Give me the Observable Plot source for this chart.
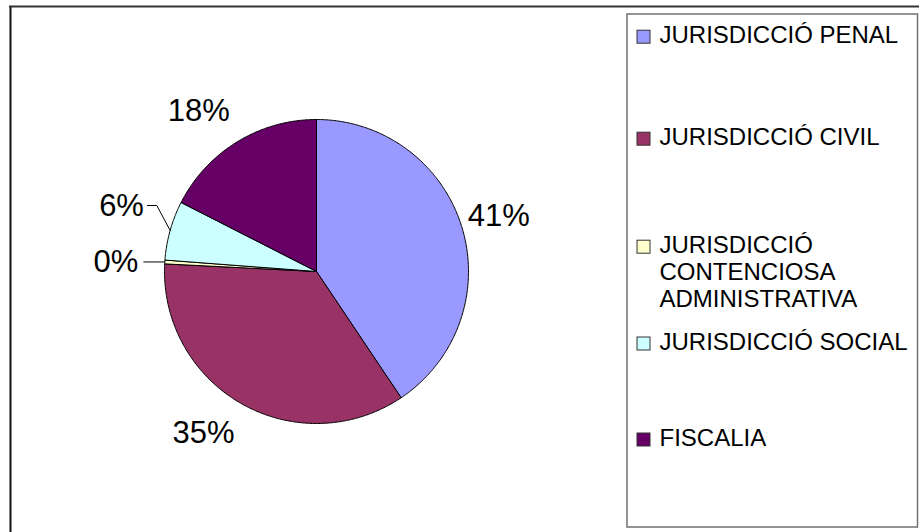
<!DOCTYPE html>
<html>
<head>
<meta charset="utf-8">
<script src="https://cdn.jsdelivr.net/npm/d3@7"></script>
<script src="https://cdn.jsdelivr.net/npm/@observablehq/plot@0.6"></script>
<style>
  html, body { margin: 0; padding: 0; background: #fff; }
  #wrap { width: 919px; height: 532px; overflow: hidden; position: relative; }
  #wrap svg { overflow: hidden; }
  g[aria-label="legend-text"] text { letter-spacing: 0.7px; }
  g[aria-label="pie-label"] text { letter-spacing: 1.2px; }
</style>
</head>
<body>
<div id="wrap"></div>
<script>
// ---- data ----
const categories = [
  "JURISDICCIÓ PENAL",
  "JURISDICCIÓ CIVIL",
  "JURISDICCIÓ CONTENCIOSA ADMINISTRATIVA",
  "JURISDICCIÓ SOCIAL",
  "FISCALIA"
];
const legendLabels = [
  "JURISDICCIÓ PENAL",
  "JURISDICCIÓ CIVIL",
  "JURISDICCIÓ\nCONTENCIOSA\nADMINISTRATIVA",
  "JURISDICCIÓ SOCIAL",
  "FISCALIA"
];
const shares = [40.6, 35.2, 0.4, 6.3, 17.5];
const colors = ["#9999FF", "#993366", "#FFFFCC", "#CCFFFF", "#660066"];

// ---- layout ----
const W = 919, H = 532;
const cx = 316, cy = 271, R = 152;
const font = "'Liberation Sans', Arial, sans-serif";
const leaderLayout = {
  2: { ex: 0, ey: 0, len: 21, gap: 5.5 },
  3: { ex: -13.3, ey: -25, len: 9.4, gap: 3.5 }
};
const legendRowY = [34.7, 136.7, 244.7, 341.5, 437.5];
const legendLine = 27;
const legendBox = { x1: 627, x2: 917.5, y1: 14, y2: 527 };

const arcs = d3.pie().sort(null).value(d => d)(shares);
const pt = (a, r) => ({ px: cx + r * Math.sin(a), py: cy - r * Math.cos(a) });

// slice outlines
const slicePts = arcs.flatMap((a, i) => {
  const pts = [{ name: categories[i], fill: colors[i], px: cx, py: cy }];
  const n = Math.max(2, Math.ceil((a.endAngle - a.startAngle) / (Math.PI / 360)));
  for (let k = 0; k <= n; k++) {
    const ang = a.startAngle + (a.endAngle - a.startAngle) * k / n;
    pts.push({ name: categories[i], fill: colors[i], ...pt(ang, R) });
  }
  pts.push({ name: categories[i], fill: colors[i], px: cx, py: cy });
  return pts;
});

// labels
const labels = arcs.map((a, i) => {
  const mid = (a.startAngle + a.endAngle) / 2;
  const text = Math.round(shares[i]) + "%";
  if (leaderLayout[i]) {
    const L = leaderLayout[i];
    const P = pt(mid, R);
    const E = { px: P.px + L.ex, py: P.py + L.ey };
    const End = { px: E.px - L.len, py: E.py };
    return { i, text, leader: [P, E, End].map(p => ({ ...p, i })), px: End.px - L.gap, py: End.py + 0.5, side: "end" };
  }
  const A = pt(mid, R * 1.04);
  const right = Math.sin(mid) > 0;
  return { i, text, px: A.px + (right ? 0 : -4), py: A.py - Math.cos(mid) * 29 - 1, side: right ? "start" : "end" };
});
const leaderPts = labels.filter(d => d.leader).flatMap(d => d.leader);

// legend
const legendText = legendLabels.flatMap((s, i) =>
  s.split("\n").map((line, k) => ({ line, px: 659, py: legendRowY[i] + k * legendLine }))
);
const legendSw = legendLabels.map((s, i) => ({ fill: colors[i], y1: legendRowY[i] - 4.5, y2: legendRowY[i] + 8.5 }));

const chart = Plot.plot({
  width: W, height: H, margin: 0,
  x: { domain: [0, W], range: [0, W], axis: null },
  y: { domain: [0, H], range: [0, H], axis: null },
  color: { type: "identity" },
  style: { fontFamily: font, background: "#fff" },
  marks: [
    // outer frame
    Plot.ruleX([10], { y1: 6, y2: H + 10, stroke: "#111", strokeWidth: 2 }),
    Plot.ruleY([6], { x1: 9, x2: W + 10, stroke: "#333", strokeWidth: 2 }),
    // pie
    Plot.line(slicePts, { x: "px", y: "py", z: "name", fill: "fill", stroke: "#000", strokeWidth: 1, curve: "linear", strokeLinejoin: "miter" }),
    // leaders
    Plot.line(leaderPts, { x: "px", y: "py", z: "i", stroke: "#000", strokeWidth: 1, curve: "linear" }),
    // labels
    Plot.text(labels.filter(d => d.side === "start"), { x: "px", y: "py", text: "text", textAnchor: "start", fontSize: 31, fill: "#000", ariaLabel: "pie-label" }),
    Plot.text(labels.filter(d => d.side === "end"), { x: "px", y: "py", text: "text", textAnchor: "end", fontSize: 31, fill: "#000", ariaLabel: "pie-label" }),
    // legend box
    Plot.rect([legendBox], { x1: "x1", x2: "x2", y1: "y1", y2: "y2", fill: "none", stroke: "#707070", strokeWidth: 1.5 }),
    Plot.rect(legendSw, { x1: () => 637, x2: () => 650, y1: "y1", y2: "y2", fill: "fill", stroke: "#333", strokeWidth: 1 }),
    Plot.text(legendText, { x: "px", y: "py", text: "line", textAnchor: "start", fontSize: 24, fill: "#000", ariaLabel: "legend-text" })
  ]
});
document.getElementById("wrap").appendChild(chart);
</script>
</body>
</html>
